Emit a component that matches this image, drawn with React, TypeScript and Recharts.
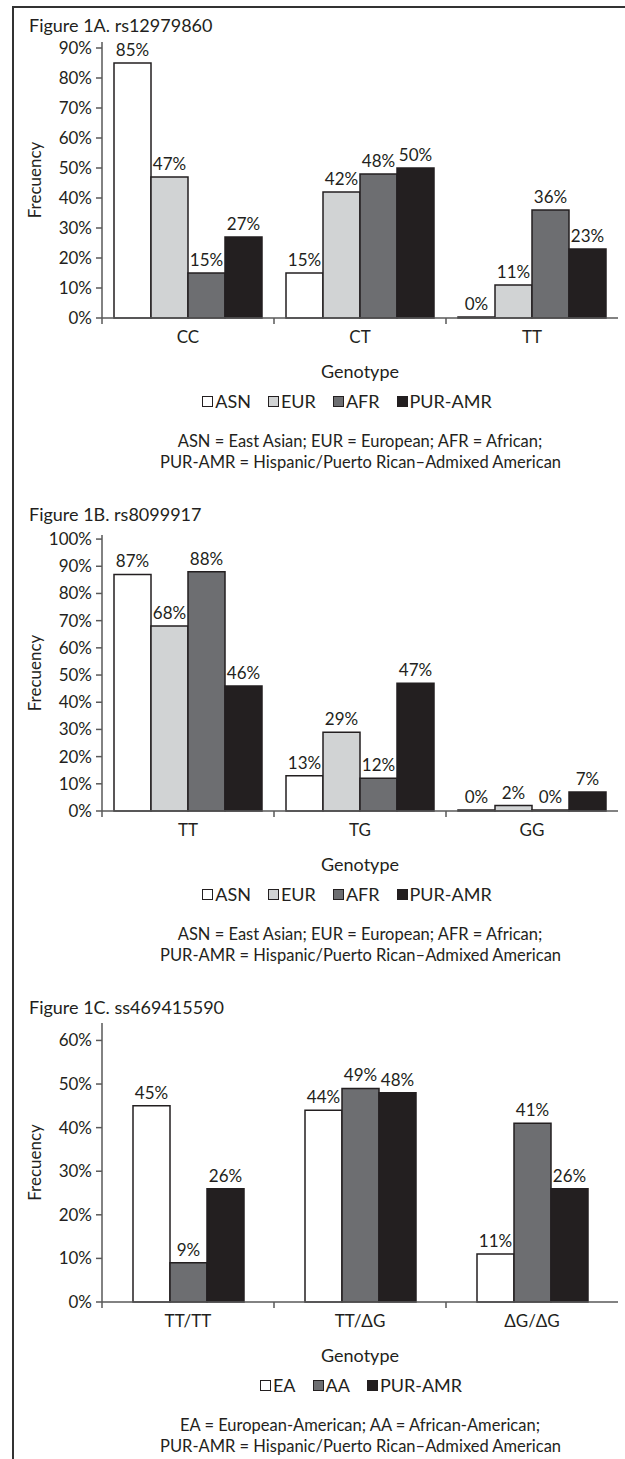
import React from 'react';
import { BarChart, Bar, XAxis, YAxis, LabelList } from 'recharts';

// Figure 1A. rs12979860
const genotypesA = ['CC', 'CT', 'TT'];
const asnA = [85, 15, 0];
const eurA = [47, 42, 11];
const afrA = [15, 48, 36];
const purA = [27, 50, 23];
const ticksA = [0, 10, 20, 30, 40, 50, 60, 70, 80, 90];

// Figure 1B. rs8099917
const genotypesB = ['TT', 'TG', 'GG'];
const asnB = [87, 13, 0];
const eurB = [68, 29, 2];
const afrB = [88, 12, 0];
const purB = [46, 47, 7];
const ticksB = [0, 10, 20, 30, 40, 50, 60, 70, 80, 90, 100];

// Figure 1C. ss469415590
const genotypesC = ['TT/TT', 'TT/ΔG', 'ΔG/ΔG'];
const eaC = [45, 44, 11];
const aaC = [9, 49, 41];
const purC = [26, 48, 26];
const ticksC = [0, 10, 20, 30, 40, 50, 60];

const notesAB = [
  'ASN = East Asian; EUR = European; AFR = African;',
  'PUR-AMR = Hispanic/Puerto Rican–Admixed American',
];
const notesC = [
  'EA = European-American; AA = African-American;',
  'PUR-AMR = Hispanic/Puerto Rican–Admixed American',
];

const W = 625;
const PLOT_L = 102;
const PLOT_R = 618;
const FONT = "Lato, 'Open Sans', sans-serif";
const INK = '#231f20';
const AXIS = '#595959';
const WHITE = '#ffffff';
const LIGHT = '#d1d3d4';
const MID = '#6d6e71';
const DARK = '#231f20';

interface Series {
  key: string;
  name: string;
  fill: string;
  values: number[];
}

const CatTick = (props: any) => {
  const { x, y, payload, count } = props;
  const half = payload && payload.offset > 0 ? payload.offset : (PLOT_R - PLOT_L) / count / 2;
  return (
    <g>
      <line x1={x - half} y1={y} x2={x - half} y2={y + 6} stroke={AXIS} strokeWidth={1.5} />
      <text x={x} y={y + 25} textAnchor="middle" fontSize={17} fontFamily={FONT} fill={INK}>
        {payload.value}
      </text>
    </g>
  );
};

const YLabel = (props: any) => {
  const vb = props.viewBox || {};
  const cx = (vb.x ?? 42) - 8;
  const cy = (vb.y ?? 0) + (vb.height ?? 0) / 2;
  return (
    <text
      x={cx}
      y={cy}
      transform={`rotate(-90 ${cx} ${cy})`}
      textAnchor="middle"
      dominantBaseline="central"
      fontSize={17}
      fontFamily={FONT}
      fill={INK}
    >
      Frecuency
    </text>
  );
};

interface PanelProps {
  title: string;
  titleY: number;
  axisTop: number;
  plotH: number;
  cats: string[];
  series: Series[];
  ticks: number[];
  yMax: number;
  legendCx: number;
  notes: string[];
}

function Panel({ title, titleY, axisTop, plotH, cats, series, ticks, yMax, legendCx, notes }: PanelProps) {
  const data = cats.map((c, i) => {
    const row: any = { genotype: c };
    series.forEach((s) => (row[s.key] = s.values[i]));
    return row;
  });
  const axisY = axisTop + plotH;

  return (
    <>
      <div
        style={{ position: 'absolute', left: 29, top: titleY - 11, fontSize: 18, lineHeight: '22px', whiteSpace: 'nowrap' }}
      >
        {title}
      </div>

      <div style={{ position: 'absolute', left: 0, top: axisTop - 10 }}>
        <BarChart
          width={W}
          height={10 + plotH + 70}
          data={data}
          margin={{ top: 10, right: W - PLOT_R, left: PLOT_L - 60, bottom: 0 }}
          barGap={0}
        >
          <XAxis
            dataKey="genotype"
            height={70}
            interval={0}
            tickSize={0}
            tickMargin={0}
            tickLine={false}
            axisLine={{ stroke: AXIS, strokeWidth: 1.5 }}
            tick={<CatTick count={cats.length} />}
            label={{ value: 'Genotype', position: 'insideBottom', offset: 10, fontSize: 18, fontFamily: FONT, fill: INK }}
          />
          <YAxis
            width={60}
            type="number"
            domain={[0, yMax]}
            ticks={ticks}
            interval={0}
            tickSize={6}
            tickMargin={4}
            axisLine={{ stroke: AXIS, strokeWidth: 1.5 }}
            tickLine={{ stroke: AXIS, strokeWidth: 1.5 }}
            tick={{ fontSize: 17, fontFamily: FONT, fill: INK }}
            tickFormatter={(v: number) => `${v}%`}
            label={{ content: <YLabel /> }}
          />
          {series.map((s) => (
            <Bar
              key={s.key}
              dataKey={s.key}
              name={s.name}
              fill={s.fill}
              stroke={DARK}
              strokeWidth={1.5}
              barSize={37}
              minPointSize={1}
              isAnimationActive={false}
            >
              <LabelList
                dataKey={s.key}
                position="top"
                offset={7}
                formatter={(v: any) => `${v}%`}
                fontSize={17}
                fontFamily={FONT}
                fill={INK}
              />
            </Bar>
          ))}
        </BarChart>
      </div>

      <div
        style={{
          position: 'absolute',
          left: legendCx - 200,
          width: 400,
          top: axisY + 83 - 12,
          height: 24,
          display: 'flex',
          justifyContent: 'center',
          alignItems: 'center',
          fontSize: 18,
          whiteSpace: 'nowrap',
        }}
      >
        {series.map((s, i) => (
          <div key={s.key} style={{ display: 'flex', alignItems: 'center', marginLeft: i === 0 ? 0 : 17 }}>
            <span
              style={{
                display: 'inline-block',
                width: 9,
                height: 9,
                background: s.fill,
                border: `1px solid ${DARK}`,
                marginRight: 2,
              }}
            />
            <span>{s.name}</span>
          </div>
        ))}
      </div>

      {notes.map((n, i) => (
        <div
          key={i}
          style={{
            position: 'absolute',
            left: 160,
            width: 400,
            top: axisY + 123 + i * 21 - 11,
            lineHeight: '22px',
            textAlign: 'center',
            fontSize: 16.5,
            whiteSpace: 'nowrap',
          }}
        >
          {n}
        </div>
      ))}
    </>
  );
}

export default function App() {
  const seriesA: Series[] = [
    { key: 'asn', name: 'ASN', fill: WHITE, values: asnA },
    { key: 'eur', name: 'EUR', fill: LIGHT, values: eurA },
    { key: 'afr', name: 'AFR', fill: MID, values: afrA },
    { key: 'pur', name: 'PUR-AMR', fill: DARK, values: purA },
  ];
  const seriesB: Series[] = [
    { key: 'asn', name: 'ASN', fill: WHITE, values: asnB },
    { key: 'eur', name: 'EUR', fill: LIGHT, values: eurB },
    { key: 'afr', name: 'AFR', fill: MID, values: afrB },
    { key: 'pur', name: 'PUR-AMR', fill: DARK, values: purB },
  ];
  const seriesC: Series[] = [
    { key: 'ea', name: 'EA', fill: WHITE, values: eaC },
    { key: 'aa', name: 'AA', fill: MID, values: aaC },
    { key: 'pur', name: 'PUR-AMR', fill: DARK, values: purC },
  ];

  return (
    <div
      style={{
        position: 'absolute',
        left: 0,
        top: 0,
        width: W,
        height: 1459,
        background: '#fff',
        fontFamily: FONT,
        color: INK,
        overflow: 'hidden',
      }}
    >
      {/* frame: top and left rules */}
      <div style={{ position: 'absolute', left: 12, top: 6, width: W - 12, height: 1.5, background: '#333' }} />
      <div style={{ position: 'absolute', left: 12, top: 6, width: 1.5, height: 1459, background: '#333' }} />

      <Panel
        title="Figure 1A. rs12979860"
        titleY={25}
        axisTop={42}
        plotH={276}
        cats={genotypesA}
        series={seriesA}
        ticks={ticksA}
        yMax={92}
        legendCx={347}
        notes={notesAB}
      />
      <Panel
        title="Figure 1B. rs8099917"
        titleY={514}
        axisTop={535}
        plotH={276}
        cats={genotypesB}
        series={seriesB}
        ticks={ticksB}
        yMax={101.5}
        legendCx={347}
        notes={notesAB}
      />
      <Panel
        title="Figure 1C. ss469415590"
        titleY={1007}
        axisTop={1023}
        plotH={279}
        cats={genotypesC}
        series={seriesC}
        ticks={ticksC}
        yMax={64}
        legendCx={361}
        notes={notesC}
      />
    </div>
  );
}
